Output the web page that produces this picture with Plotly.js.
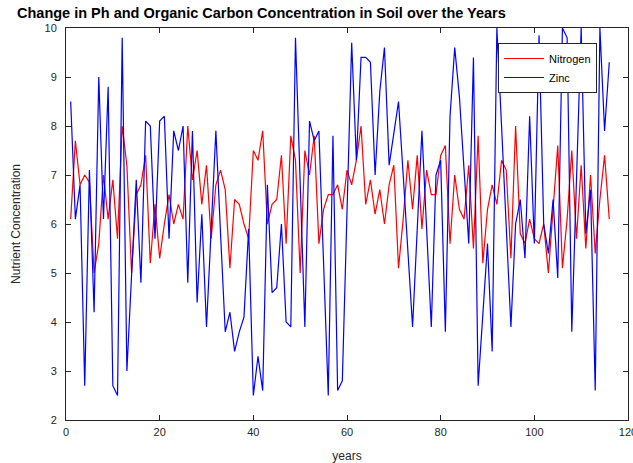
<!DOCTYPE html>
<html>
<head>
<meta charset="utf-8">
<script src="https://cdn.plot.ly/plotly-3.0.1.min.js"></script>
<style>html,body{margin:0;padding:0;background:#fff;}#chart{width:633px;height:463px;}</style>
</head>
<body>
<div id="chart"></div>
<script>
var nitrogen = [6.1,7.7,6.8,7.0,6.85,5.0,5.6,7.0,6.1,6.9,5.7,8.0,7.2,5.0,6.6,6.8,7.4,5.2,6.4,5.3,
6.0,6.6,6.0,6.4,6.1,8.0,6.9,7.5,6.4,7.2,5.7,6.8,7.1,6.7,5.1,6.5,6.4,6.0,5.7,7.5,
7.3,7.9,6.0,6.4,6.5,7.4,5.6,7.8,7.3,5.0,7.5,7.0,7.8,5.6,6.3,6.6,6.6,6.8,6.3,7.1,
6.8,7.3,8.0,6.4,6.9,6.2,6.7,6.0,6.8,7.2,5.1,6.1,7.3,6.3,7.4,5.9,7.1,6.6,6.6,7.4,
7.6,5.6,7.0,6.3,6.1,7.2,5.5,7.8,5.2,6.3,6.8,6.4,7.3,7.1,5.3,8.0,5.8,5.6,6.1,5.7,
5.6,6.0,5.0,6.3,7.6,5.1,6.1,7.5,5.7,7.2,5.5,7.0,5.4,6.5,7.4,6.1];
var zinc = [8.5,6.1,6.8,2.7,7.1,4.2,9.0,6.1,8.8,2.7,2.5,9.8,3.0,5.0,6.9,4.8,8.1,8.0,5.7,8.1,
8.2,5.7,7.9,7.5,8.0,4.8,7.9,4.4,6.2,3.9,5.9,7.9,5.8,3.8,4.2,3.4,3.8,4.1,5.9,2.5,
3.3,2.6,6.8,4.6,4.7,6.0,4.0,3.9,9.8,6.8,3.9,8.1,7.7,7.9,5.2,2.5,7.8,2.6,2.8,6.2,
9.7,7.3,9.4,9.4,9.3,7.0,8.7,9.6,7.2,7.85,8.5,7.0,5.4,3.9,5.9,7.9,5.9,3.9,7.0,7.3,
3.8,8.2,9.6,8.6,7.1,5.6,9.4,2.7,4.15,5.6,3.4,10.0,8.0,6.0,3.9,6.0,6.5,5.3,8.2,5.6,
9.85,6.0,5.4,6.5,4.9,10.0,9.8,3.8,6.7,10.0,5.8,6.7,2.6,10.0,7.9,9.3];
var years = nitrogen.map(function(_, i){ return i + 1; });
var xTicks = [0,20,40,60,80,100,120];
var yTicks = [2,3,4,5,6,7,8,9,10];

var axisColor = '#262626';
var fontFam = 'Liberation Sans, Arial, sans-serif';

var traces = [
  {x: years, y: nitrogen, type: 'scatter', mode: 'lines', name: 'Nitrogen',
   line: {color: '#ff0000', width: 1.2}},
  {x: years, y: zinc, type: 'scatter', mode: 'lines', name: 'Zinc',
   line: {color: '#0000ff', width: 1.2}}
];

var layout = {
  width: 633, height: 463,
  margin: {l: 66, r: 5, t: 28, b: 43, pad: 0},
  paper_bgcolor: '#ffffff', plot_bgcolor: '#ffffff',
  font: {family: fontFam, size: 11, color: axisColor},
  title: {text: '<b>Change in Ph and Organic Carbon Concentration in Soil over the Years</b>',
          font: {family: fontFam, size: 14.5, color: '#000000'},
          x: 17/633, xanchor: 'left', xref: 'container',
          y: 1 - 12.5/463, yanchor: 'middle', yref: 'container'},
  xaxis: {range: [0, 120], tickvals: xTicks, ticktext: xTicks.map(String),
          ticks: 'inside', ticklen: 5, tickcolor: axisColor, tickwidth: 1,
          showline: true, linecolor: axisColor, linewidth: 1, mirror: 'ticks',
          showgrid: false, zeroline: false, ticklabeloverflow: 'allow',
          ticklabelstandoff: 2,
          tickfont: {family: fontFam, size: 11, color: axisColor},
          title: {text: 'years', font: {family: fontFam, size: 12, color: axisColor}, standoff: 15}},
  yaxis: {range: [2, 10], tickvals: yTicks, ticktext: yTicks.map(String),
          ticks: 'inside', ticklen: 5, tickcolor: axisColor, tickwidth: 1,
          showline: true, linecolor: axisColor, linewidth: 1, mirror: 'ticks',
          showgrid: false, zeroline: false, ticklabeloverflow: 'allow',
          ticklabelstandoff: 6,
          tickfont: {family: fontFam, size: 11, color: axisColor},
          title: {text: 'Nutrient Concentration', font: {family: fontFam, size: 12, color: axisColor}, standoff: 21}},
  showlegend: true,
  legend: {x: (498-66)/562, xanchor: 'left', y: (420-43)/392, yanchor: 'top',
           bgcolor: '#ffffff', bordercolor: axisColor, borderwidth: 1,
           font: {family: fontFam, size: 11, color: '#000000'},
           tracegroupgap: 0, itemwidth: 40}
};

Plotly.newPlot('chart', traces, layout, {displayModeBar: false, staticPlot: true});
</script>
</body>
</html>
